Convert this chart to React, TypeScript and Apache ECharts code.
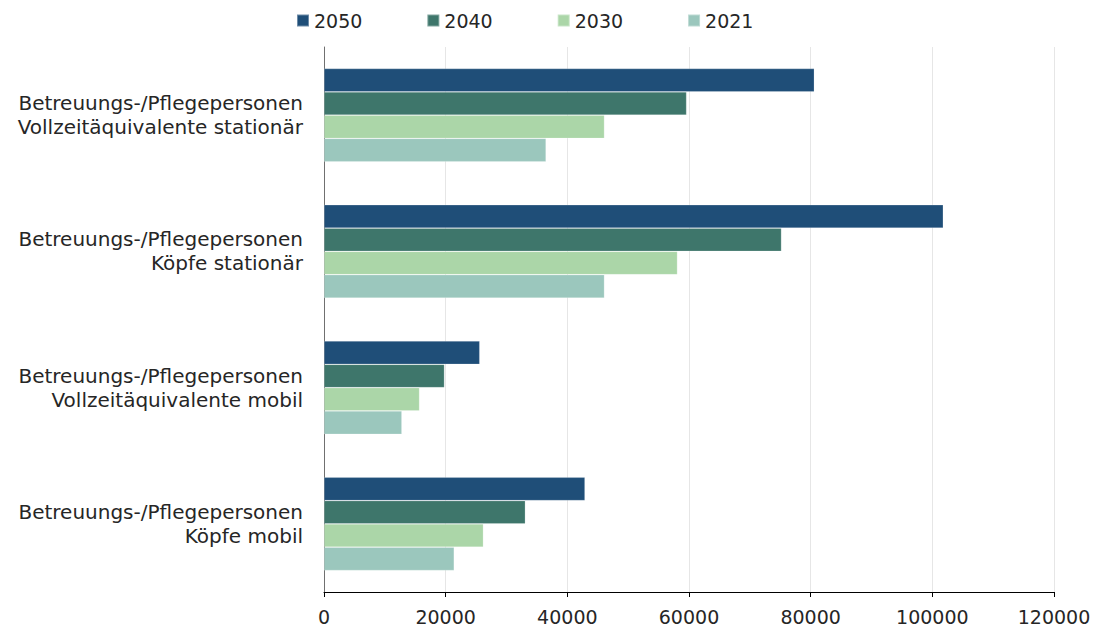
import React, { useEffect, useRef } from "react";
import * as echarts from "echarts";

const categories = [
  "Betreuungs-/Pflegepersonen\nVollzeitäquivalente stationär",
  "Betreuungs-/Pflegepersonen\nKöpfe stationär",
  "Betreuungs-/Pflegepersonen\nVollzeitäquivalente mobil",
  "Betreuungs-/Pflegepersonen\nKöpfe mobil",
];
const seriesNames = ["2050", "2040", "2030", "2021"];
const values2050 = [80600, 101800, 25600, 42900];
const values2040 = [59600, 75200, 19800, 33100];
const values2030 = [46100, 58100, 15700, 26200];
const values2021 = [36500, 46100, 12800, 21400];
const xTicks = { min: 0, max: 120000, interval: 20000 };
const colors = ["#1f4e78", "#3e766b", "#abd6a8", "#9bc7bd"];

export default function App() {
  const ref = useRef<HTMLDivElement>(null);
  useEffect(() => {
    if (!ref.current) return;
    const chart = echarts.init(ref.current, null, { renderer: "svg" });
    const all = [values2050, values2040, values2030, values2021];
    const font = "DejaVu Sans";
    chart.setOption({
      animation: false,
      textStyle: { fontFamily: font },
      legend: {
        top: 6,
        left: 291,
        itemWidth: 12,
        itemHeight: 12,
        itemGap: 64,
        icon: "rect",
        textStyle: { fontSize: 19, color: "#262626", fontFamily: font },
        data: seriesNames,
      },
      grid: { left: 324, right: 48, top: 47, bottom: 38, containLabel: false },
      xAxis: {
        type: "value",
        min: xTicks.min,
        max: xTicks.max,
        interval: xTicks.interval,
        axisLine: { show: true, lineStyle: { color: "#000000", width: 1 } },
        axisTick: { show: true, length: 5, lineStyle: { color: "#000000" } },
        axisLabel: {
          fontSize: 19,
          color: "#262626",
          margin: 15,
          fontFamily: font,
          formatter: (v: number) => String(v),
        },
        splitLine: { show: true, lineStyle: { color: "#e6e6e6", width: 1 } },
      },
      yAxis: {
        type: "category",
        inverse: true,
        data: categories,
        axisLine: { show: true, lineStyle: { color: "#707070", width: 1 } },
        axisTick: { show: false },
        axisLabel: {
          fontSize: 20,
          color: "#262626",
          margin: 21,
          lineHeight: 24,
          align: "right",
          fontFamily: font,
        },
      },
      series: seriesNames.map((n, i) => ({
        name: n,
        type: "bar",
        data: all[i],
        barGap: "0%",
        barCategoryGap: "31.6%",
        itemStyle: { color: colors[i], borderColor: "rgba(255,255,255,0.35)", borderWidth: 0.6 },
      })),
    });
    return () => chart.dispose();
  }, []);
  return (
    <div
      ref={ref}
      style={{ position: "fixed", left: 0, top: 0, width: 1102, height: 630, background: "#ffffff" }}
    />
  );
}
